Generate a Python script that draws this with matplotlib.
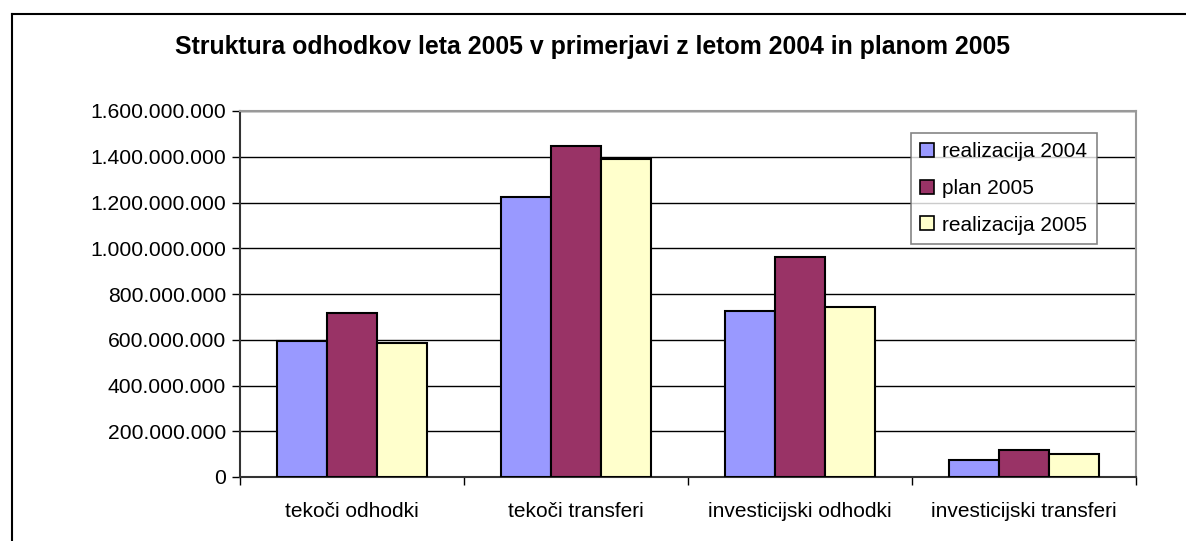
import matplotlib
matplotlib.use('Agg')
import matplotlib.pyplot as plt
import matplotlib.patches as mpatches
from matplotlib.lines import Line2D
from matplotlib.ticker import FuncFormatter
import numpy as np

#%% Data

categories = ['tekoči odhodki', 'tekoči transferi', 'investicijski odhodki', 'investicijski transferi']
series_names = ['realizacija 2004', 'plan 2005', 'realizacija 2005']

real_2004 = [596000000, 1225000000, 725000000, 76000000]
plan_2005 = [715000000, 1447000000, 963000000, 119000000]
real_2005 = [586000000, 1389000000, 741000000, 102000000]

colors = ['#9999ff', '#993366', '#ffffcc']

#%% Plot

plt.rcParams['font.family'] = ['Liberation Sans', 'DejaVu Sans']

fig = plt.figure(figsize=(11.86, 5.41), dpi=100)
ax = fig.add_axes([240/1186, 1-477/541, 896/1186, 366/541])

x = np.arange(len(categories))
w = 0.222
for i, vals in enumerate([real_2004, plan_2005, real_2005]):
    ax.bar(x + (i-1)*w, vals, width=w, color=colors[i], edgecolor='black',
           linewidth=1.5, label=series_names[i], zorder=3)

ax.set_xlim(-0.5, len(categories)-0.5)
ax.set_ylim(0, 1600000000)
ax.set_yticks(np.arange(0, 1600000001, 200000000))
ax.yaxis.set_major_formatter(FuncFormatter(lambda v, p: '{:,.0f}'.format(v).replace(',', '.')))
ax.grid(axis='y', color='black', linewidth=1, zorder=0)

ax.set_xticks(x)
ax.set_xticklabels(categories, fontsize=15)
ax.set_xticks(np.arange(-0.5, len(categories)), minor=True)
ax.tick_params(axis='x', which='major', length=0, pad=18)
ax.tick_params(axis='x', which='minor', length=6, width=1, direction='out')
ax.tick_params(axis='y', labelsize=15.2, length=6, width=1, direction='out', pad=4)

ax.spines['left'].set_color('#333333')
ax.spines['bottom'].set_color('#333333')
ax.spines['top'].set_color('#999999')
ax.spines['right'].set_color('#999999')
for s in ax.spines.values():
    s.set_linewidth(1.5)

handles = [mpatches.Patch(facecolor=c, edgecolor='black', linewidth=1.2, label=n)
           for c, n in zip(colors, series_names)]
leg = ax.legend(handles=handles, loc='upper left', bbox_to_anchor=(0.749, 0.94),
                fontsize=15, frameon=True, fancybox=False, shadow=False,
                handlelength=0.65, handleheight=0.65, handletextpad=0.4,
                borderpad=0.45, labelspacing=0.85, borderaxespad=0)
leg.get_frame().set_edgecolor('#666666')
leg.get_frame().set_linewidth(1.2)
leg.set_zorder(5)

fig.text(0.5, 1-47/541, 'Struktura odhodkov leta 2005 v primerjavi z letom 2004 in planom 2005',
         ha='center', va='center', fontsize=17.9, fontweight='bold')

# outer frame (only top and left edges visible)
fig.add_artist(Line2D([12/1186, 12/1186], [0, 1-14/541], color='black', linewidth=1.5))
fig.add_artist(Line2D([12/1186, 1], [1-14/541, 1-14/541], color='black', linewidth=1.5))

plt.savefig('out.png', dpi=100)
